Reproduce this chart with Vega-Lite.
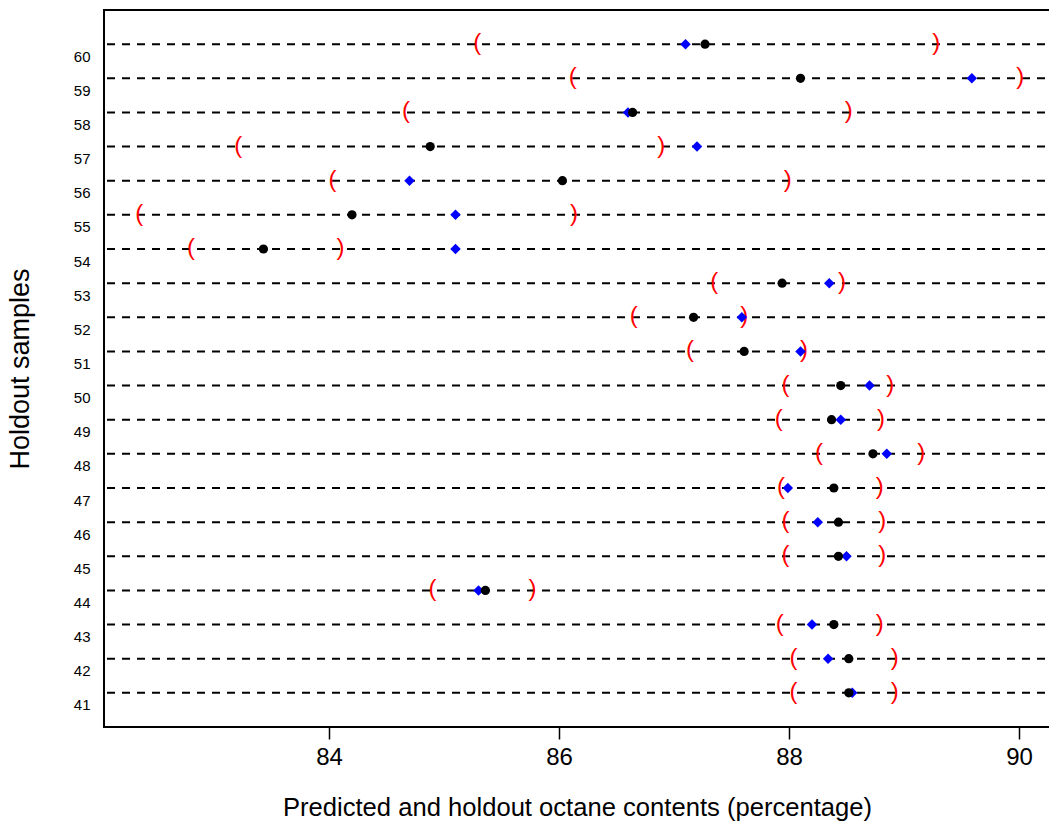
{
  "$schema": "https://vega.github.io/schema/vega-lite/v6.json",
  "width": 946,
  "height": 717,
  "autosize": {"type": "none"},
  "padding": {"left": 104, "top": 10, "right": 0, "bottom": 99},
  "background": "white",
  "config": {
    "font": "Liberation Sans",
    "view": {"stroke": "black", "strokeWidth": 2},
    "axis": {"grid": false, "domain": false, "labelColor": "black", "titleColor": "black", "titleFontWeight": "normal", "tickColor": "black"}
  },
  "data": {
    "values": [
      {"sample": 60, "lower": 85.29, "upper": 89.28, "predicted": 87.27, "holdout": 87.10},
      {"sample": 59, "lower": 86.12, "upper": 90.01, "predicted": 88.10, "holdout": 89.59},
      {"sample": 58, "lower": 84.67, "upper": 88.52, "predicted": 86.64, "holdout": 86.60},
      {"sample": 57, "lower": 83.21, "upper": 86.89, "predicted": 84.88, "holdout": 87.20},
      {"sample": 56, "lower": 84.03, "upper": 87.99, "predicted": 86.03, "holdout": 84.70},
      {"sample": 55, "lower": 82.35, "upper": 86.13, "predicted": 84.20, "holdout": 85.10},
      {"sample": 54, "lower": 82.80, "upper": 84.10, "predicted": 83.43, "holdout": 85.10},
      {"sample": 53, "lower": 87.35, "upper": 88.46, "predicted": 87.94, "holdout": 88.35},
      {"sample": 52, "lower": 86.65, "upper": 87.61, "predicted": 87.17, "holdout": 87.59},
      {"sample": 51, "lower": 87.14, "upper": 88.13, "predicted": 87.61, "holdout": 88.10},
      {"sample": 50, "lower": 87.97, "upper": 88.88, "predicted": 88.45, "holdout": 88.70},
      {"sample": 49, "lower": 87.91, "upper": 88.80, "predicted": 88.37, "holdout": 88.45},
      {"sample": 48, "lower": 88.26, "upper": 89.15, "predicted": 88.73, "holdout": 88.85},
      {"sample": 47, "lower": 87.93, "upper": 88.79, "predicted": 88.39, "holdout": 87.99},
      {"sample": 46, "lower": 87.97, "upper": 88.81, "predicted": 88.43, "holdout": 88.25},
      {"sample": 45, "lower": 87.97, "upper": 88.81, "predicted": 88.43, "holdout": 88.50},
      {"sample": 44, "lower": 84.90, "upper": 85.77, "predicted": 85.36, "holdout": 85.30},
      {"sample": 43, "lower": 87.92, "upper": 88.79, "predicted": 88.39, "holdout": 88.20},
      {"sample": 42, "lower": 88.04, "upper": 88.92, "predicted": 88.52, "holdout": 88.34},
      {"sample": 41, "lower": 88.04, "upper": 88.92, "predicted": 88.52, "holdout": 88.55}
    ]
  },
  "encoding": {
    "y": {
      "field": "sample",
      "type": "quantitative",
      "scale": {"domain": [40, 61], "nice": false, "zero": false},
      "axis": {
        "title": "Holdout samples",
        "titleFontSize": 27,
        "titlePadding": 39,
        "values": [41, 42, 43, 44, 45, 46, 47, 48, 49, 50, 51, 52, 53, 54, 55, 56, 57, 58, 59, 60],
        "ticks": false,
        "labelFontSize": 15,
        "labelPadding": 14,
        "labelOffset": 12
      }
    }
  },
  "layer": [
    {
      "mark": {"type": "rule", "stroke": "black", "strokeWidth": 2, "strokeDash": [8, 7], "strokeDashOffset": 10},
      "encoding": {}
    },
    {
      "mark": {"type": "text", "text": "(", "color": "red", "fontSize": 24, "align": "center", "baseline": "alphabetic", "dy": 6},
      "encoding": {
        "x": {
          "field": "lower",
          "type": "quantitative",
          "scale": {"domain": [82.0435, 90.2696], "nice": false, "zero": false},
          "axis": {
            "title": "Predicted and holdout octane contents (percentage)",
            "titleFontSize": 25.6,
            "titlePadding": 26,
            "values": [84, 86, 88, 90],
            "format": "d",
            "tickSize": 12,
            "tickWidth": 1.5,
            "labelFontSize": 24,
            "labelPadding": 6
          }
        }
      }
    },
    {
      "mark": {"type": "text", "text": ")", "color": "red", "fontSize": 24, "align": "center", "baseline": "alphabetic", "dy": 6},
      "encoding": {
        "x": {"field": "upper", "type": "quantitative", "title": "Predicted and holdout octane contents (percentage)"}
      }
    },
    {
      "mark": {"type": "point", "shape": "diamond", "filled": true, "color": "blue", "size": 110, "opacity": 1},
      "encoding": {
        "x": {"field": "holdout", "type": "quantitative", "title": "Predicted and holdout octane contents (percentage)"}
      }
    },
    {
      "mark": {"type": "point", "shape": "circle", "filled": true, "color": "black", "size": 85, "opacity": 1},
      "encoding": {
        "x": {"field": "predicted", "type": "quantitative", "title": "Predicted and holdout octane contents (percentage)"}
      }
    }
  ]
}
